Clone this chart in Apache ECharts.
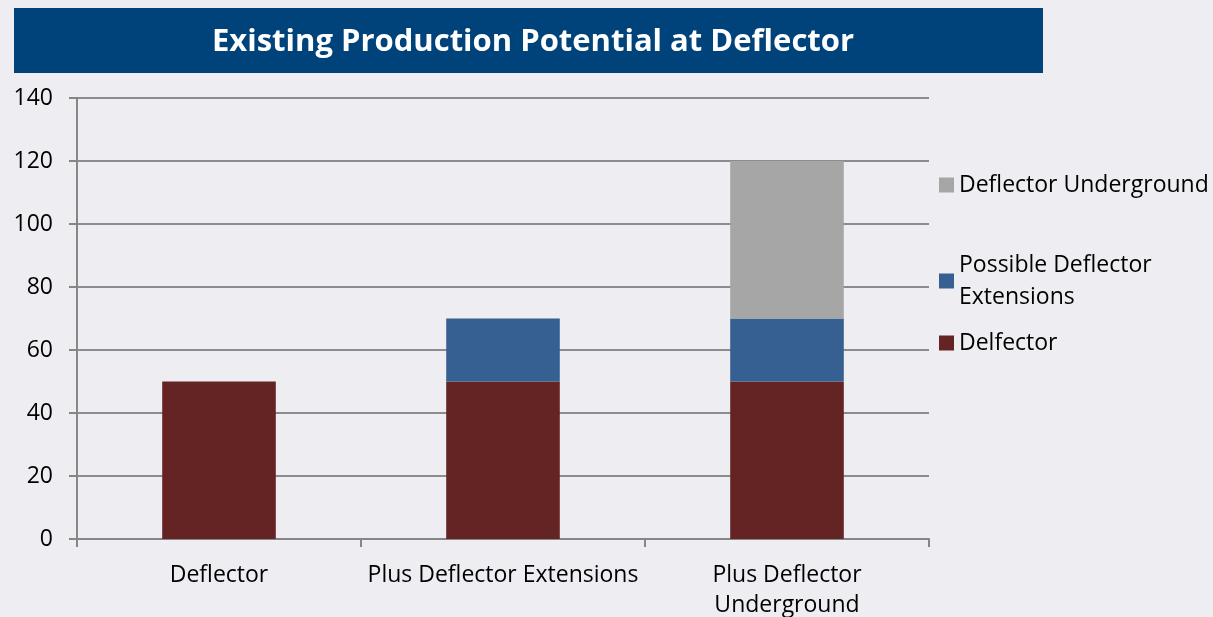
<!DOCTYPE html>
<html><head><meta charset="utf-8">
<script src="https://cdn.jsdelivr.net/npm/echarts@6/dist/echarts.min.js"></script>
<style>html,body{margin:0;padding:0;background:#EEEDF2;}#c{width:1213px;height:617px;}</style>
</head><body><div id="c"></div>
<script>
const categories = ['Deflector', 'Plus Deflector Extensions', 'Plus Deflector\nUnderground'];
const delfector = [50, 50, 50];
const extensions = [null, 20, 20];
const underground = [null, null, 50];
const yTicks = {min: 0, max: 140, interval: 20};

const FONT = '"Open Sans", sans-serif';
const legendText = {fontFamily: FONT, fontSize: 23, color: '#000', lineHeight: 32};
const chart = echarts.init(document.getElementById('c'));
chart.setOption({
  backgroundColor: '#EEEDF2',
  animation: false,
  graphic: [{
    type: 'rect', left: 14, top: 8, shape: {width: 1029, height: 65},
    style: {fill: '#00427A'}
  }],
  title: {
    text: 'Existing Production Potential at Deflector',
    left: 528, top: 22, textAlign: 'center',
    textStyle: {color: '#fff', fontFamily: FONT, fontWeight: 'bold', fontSize: 31}
  },
  legend: [
    {data: ['Deflector Underground'], orient: 'vertical', left: 934, top: 164,
     itemWidth: 15, itemHeight: 15, itemGap: 0, icon: 'rect', textStyle: legendText},
    {data: ['Possible Deflector\nExtensions'], orient: 'vertical', left: 934, top: 244,
     itemWidth: 15, itemHeight: 15, itemGap: 0, icon: 'rect', textStyle: legendText},
    {data: ['Delfector'], orient: 'vertical', left: 934, top: 322,
     itemWidth: 15, itemHeight: 15, itemGap: 0, icon: 'rect', textStyle: legendText}
  ],
  grid: {left: 77, right: 284, top: 98, bottom: 78, containLabel: false, outerBoundsMode: 'none'},
  xAxis: {
    type: 'category', data: categories,
    axisLine: {lineStyle: {color: '#868686', width: 2}},
    axisTick: {show: true, length: 8, alignWithLabel: false, lineStyle: {color: '#868686', width: 2}},
    axisLabel: {fontFamily: FONT, fontSize: 23, color: '#000', margin: 21, lineHeight: 30, interval: 0}
  },
  yAxis: {
    type: 'value', min: yTicks.min, max: yTicks.max, interval: yTicks.interval,
    axisLine: {show: true, lineStyle: {color: '#868686', width: 2}},
    axisTick: {show: true, length: 8, lineStyle: {color: '#868686', width: 2}},
    splitLine: {lineStyle: {color: '#8C8C8C', width: 2}},
    axisLabel: {fontFamily: FONT, fontSize: 23, color: '#000', margin: 24}
  },
  series: [
    {name: 'Delfector', type: 'bar', stack: 's', data: delfector, barWidth: '40%', itemStyle: {color: '#632423'}},
    {name: 'Possible Deflector\nExtensions', type: 'bar', stack: 's', data: extensions, itemStyle: {color: '#366092'}},
    {name: 'Deflector Underground', type: 'bar', stack: 's', data: underground, itemStyle: {color: '#A6A6A6'}}
  ]
});
</script></body></html>
